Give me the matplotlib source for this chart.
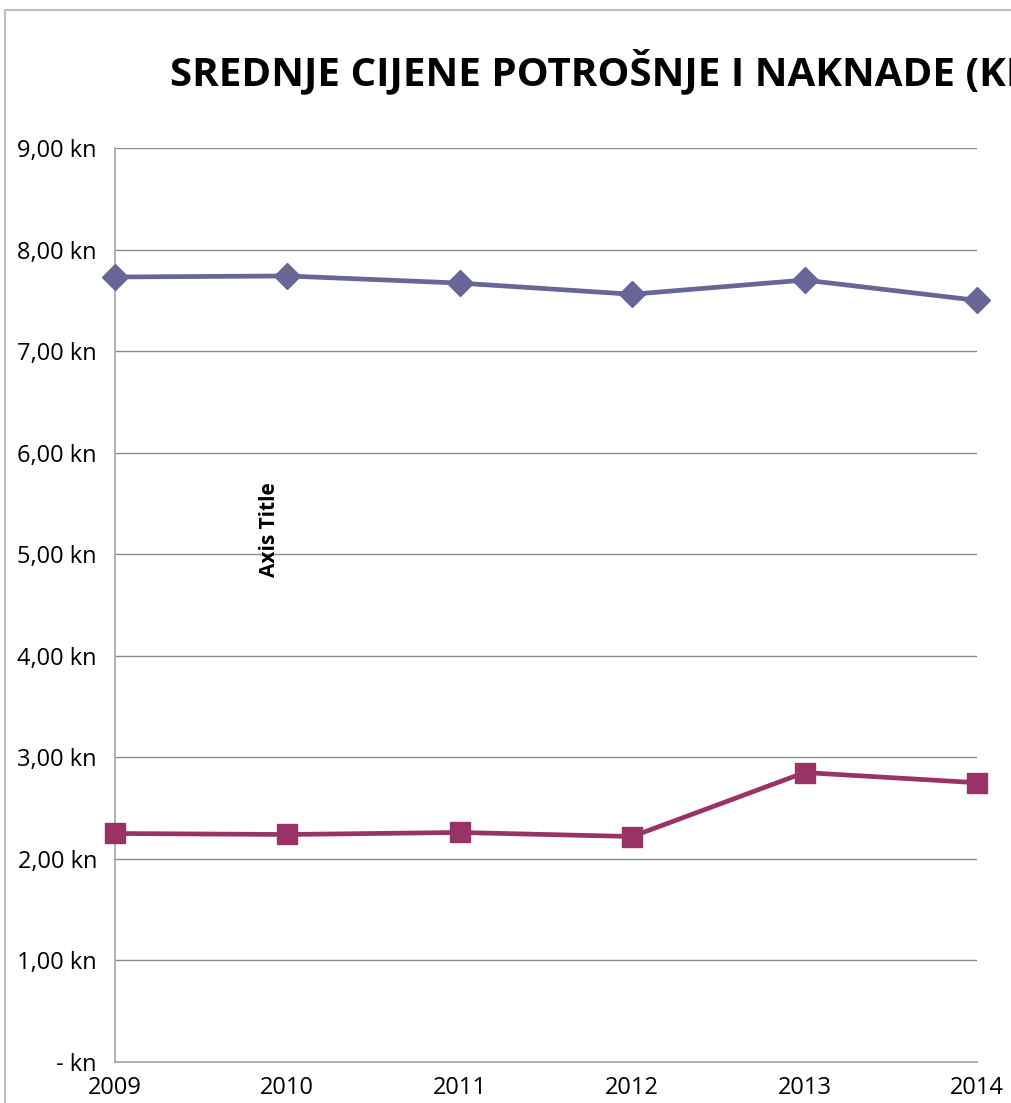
import matplotlib.pyplot as plt
from matplotlib.lines import Line2D

years = [2009, 2010, 2011, 2012, 2013, 2014]
potrosnja = [7.73, 7.74, 7.67, 7.56, 7.70, 7.50]
naknade = [2.25, 2.24, 2.26, 2.22, 2.85, 2.75]
y_ticks = [0, 1, 2, 3, 4, 5, 6, 7, 8, 9]
y_labels = ['- kn', '1,00 kn', '2,00 kn', '3,00 kn', '4,00 kn', '5,00 kn',
            '6,00 kn', '7,00 kn', '8,00 kn', '9,00 kn']

plt.rcParams['font.family'] = ['Open Sans', 'DejaVu Sans']

fig = plt.figure(figsize=(10.11, 11.03), dpi=100)
ax = fig.add_axes([0.1137, 0.0372, 0.8526, 0.8286])

ax.plot(years, potrosnja, color='#666699', linewidth=3.4, marker='D',
        markersize=13, clip_on=False, zorder=3)
ax.plot(years, naknade, color='#993366', linewidth=3.4, marker='s',
        markersize=14, clip_on=False, zorder=3)

ax.set_xlim(2009, 2014)
ax.set_ylim(0, 9)
ax.set_xticks(years)
ax.set_xticklabels([str(y) for y in years])
ax.set_yticks(y_ticks)
ax.set_yticklabels(y_labels)
ax.tick_params(axis='both', labelsize=17, length=0, colors='black')
ax.tick_params(axis='x', pad=10)
ax.tick_params(axis='y', pad=13)

ax.grid(True, axis='y', color='#8c8c8c', linewidth=1)
ax.set_axisbelow(True)
for side in ['top', 'right']:
    ax.spines[side].set_visible(False)
ax.spines['left'].set_color('#a6a6a6')
ax.spines['bottom'].set_color('#a6a6a6')
ax.spines['left'].set_linewidth(1.2)
ax.spines['bottom'].set_linewidth(1.2)

# title is cut at the right edge, same as the original chart
fig.text(0.168, 0.935, 'SREDNJE CIJENE POTROŠNJE I NAKNADE (KN)', fontsize=29,
         fontweight='bold', ha='left', va='center')
fig.text(0.267, 0.52, 'Axis Title', fontsize=15, fontweight='bold',
         rotation=90, ha='center', va='center')

# chart frame
fig.add_artist(Line2D([0.005, 1.0], [0.9905, 0.9905], color='#bfbfbf', linewidth=1.5))
fig.add_artist(Line2D([0.005, 0.005], [0.0, 0.9905], color='#bfbfbf', linewidth=1.5))

plt.savefig('out.png', dpi=100)
plt.close()
